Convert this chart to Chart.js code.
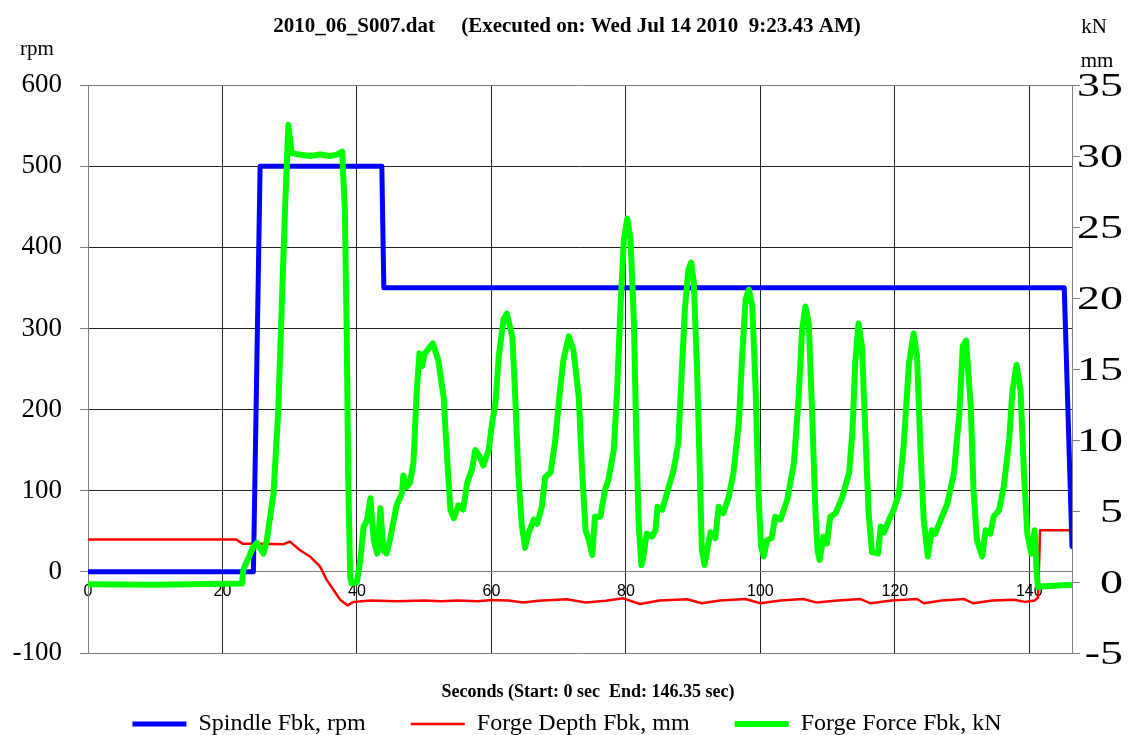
<!DOCTYPE html>
<html>
<head>
<meta charset="utf-8">
<script src="https://cdn.jsdelivr.net/npm/chart.js@4.4.1/dist/chart.umd.min.js"></script>
<style>
  html, body { margin: 0; padding: 0; background: #fff; }
  #wrap { width: 1134px; height: 735px; position: relative; }
</style>
</head>
<body>
<div id="wrap"><canvas id="forgeChart"></canvas></div>
<script>
const chartTitle = '2010_06_S007.dat     (Executed on: Wed Jul 14 2010  9:23.43 AM)';
const xTitle = 'Seconds (Start: 0 sec  End: 146.35 sec)';
const xTicks = [0, 20, 40, 60, 80, 100, 120, 140];

// Spindle Fbk, rpm (left axis)
const spindleTime = [0, 24.6, 25.6, 43.7, 44.0, 145.2, 146.35];
const spindleRpm = [0, 0, 500, 500, 350, 350, 31];

// Forge Depth Fbk, mm (right axis)
const depthTime = [0, 22.0, 23.0, 26.0, 29.0, 30.0, 31.5, 33.0, 34.5, 35.5, 36.5, 37.5, 38.6, 39.5, 42.0,
  46.0, 50.0, 52.5, 55.0, 58.0, 60.0, 62.5, 64.7, 67.0, 71.2, 74.0, 77.0, 79.6, 82.1, 85.0, 89.1, 91.3,
  94.0, 97.8, 100.0, 103.0, 106.4, 108.4, 111.5, 114.9, 116.4, 119.5, 123.3, 124.3, 127.0, 130.3, 131.7,
  134.5, 137.7, 139.4, 140.8, 141.3, 141.6, 146.35];
const depthMm = [3.0, 3.0, 2.7, 2.7, 2.65, 2.85, 2.25, 1.8, 1.1, 0.15, -0.55, -1.25, -1.65, -1.4, -1.3,
  -1.35, -1.3, -1.35, -1.3, -1.35, -1.27, -1.3, -1.45, -1.32, -1.22, -1.45, -1.32, -1.15, -1.55, -1.3, -1.22, -1.5,
  -1.3, -1.2, -1.5, -1.3, -1.2, -1.45, -1.3, -1.2, -1.5, -1.3, -1.2, -1.5, -1.3, -1.2, -1.5,
  -1.3, -1.25, -1.4, -1.3, -1.1, 3.65, 3.65];

// Forge Force Fbk, kN (right axis)
const forceTime = [0, 10, 22.9, 23.1, 24.6, 25.1, 26.1, 26.6, 27.6, 28.3, 28.8, 29.3, 29.8, 30.3, 31.5, 33.0,
  34.5, 36.0, 37.0, 37.8, 38.2, 38.5, 38.7, 39.0, 39.2, 40.0, 40.5, 41.0, 41.5, 42.0, 42.5, 43.0, 43.5, 43.9,
  44.4, 44.9, 45.9, 46.7, 46.9, 47.4, 47.9, 48.4, 48.9, 49.3, 49.7, 50.1, 51.3, 52.1, 52.9, 53.4, 53.9, 54.4,
  55.1, 55.8, 56.4, 57.1, 57.6, 58.3, 58.8, 59.6, 60.1, 60.6, 61.1, 61.8, 62.3, 63.1, 63.5, 64.0, 64.5, 65.0,
  65.5, 66.3, 66.8, 67.5, 68.0, 68.8, 69.5, 70.2, 70.7, 71.5, 72.2, 73.0, 73.5, 74.0, 74.5, 75.0, 75.4, 76.2,
  76.9, 77.4, 78.2, 78.7, 79.2, 79.7, 80.2, 80.7, 81.2, 81.5, 81.9, 82.3, 82.6, 83.1, 83.9, 84.4, 84.7, 85.4,
  86.1, 87.1, 87.8, 88.3, 88.8, 89.3, 89.7, 90.1, 90.6, 91.0, 91.3, 91.7, 92.1, 92.6, 93.3, 93.8, 94.5, 95.3,
  96.0, 96.8, 97.3, 97.8, 98.3, 98.8, 99.3, 99.7, 100.1, 100.5, 101.0, 101.7, 102.2, 103.0, 104.0, 105.0,
  105.7, 106.2, 106.7, 107.2, 107.7, 108.2, 108.5, 108.8, 109.4, 109.9, 110.4, 111.2, 112.2, 113.2, 113.7,
  114.1, 114.6, 115.1, 115.6, 116.1, 116.6, 117.5, 117.9, 118.4, 119.1, 119.8, 120.6, 121.3, 122.1, 122.8,
  123.3, 123.8, 124.3, 124.9, 125.5, 126.0, 126.8, 127.8, 128.8, 129.6, 130.1, 130.6, 131.3, 131.7, 132.2,
  133.0, 133.5, 134.2, 134.7, 135.5, 136.2, 137.0, 137.5, 138.1, 138.7, 139.2, 139.7, 140.3, 140.8, 141.1,
  141.3, 142.2, 146.35];
const forceKn = [-0.15, -0.2, -0.1, 0.85, 2.5, 2.75, 2.0, 2.95, 6.3, 12.1, 19.2, 26.2, 32.2, 30.2, 30.1, 30.0,
  30.1, 30.0, 30.1, 30.3, 26.2, 16.8, 7.4, 0.35, -0.1, 0.0, 1.55, 3.9, 4.35, 5.9, 2.95, 2.0, 5.2, 2.25,
  2.0, 2.95, 5.4, 6.25, 7.5, 6.7, 7.0, 8.4, 13.5, 16.1, 15.2, 16.1, 16.8, 15.6, 13.0, 8.8, 5.1, 4.5,
  5.4, 5.1, 7.0, 7.9, 9.3, 8.8, 8.2, 9.3, 11.2, 12.6, 15.9, 18.5, 18.9, 17.3, 13.5, 7.7, 4.1, 2.4,
  3.4, 4.4, 4.1, 5.3, 7.4, 7.7, 10.0, 13.5, 15.6, 17.3, 16.3, 13.0, 7.7, 3.65, 2.95, 1.9, 4.6, 4.6,
  6.5, 7.2, 9.3, 13.5, 19.4, 24.1, 25.6, 24.1, 18.2, 11.2, 4.1, 1.2, 1.8, 3.4, 3.2, 3.65, 5.3, 5.1,
  6.25, 7.9, 9.8, 14.7, 19.4, 22.0, 22.5, 21.1, 14.7, 7.7, 2.25, 1.2, 2.25, 3.5, 3.1, 5.3, 4.85, 6.0,
  7.7, 11.2, 15.9, 19.9, 20.6, 19.4, 13.5, 6.5, 2.5, 1.8, 2.95, 3.1, 4.6, 4.4, 5.8, 8.4,
  13.05, 17.7, 19.4, 18.2, 11.9, 4.85, 2.25, 1.55, 3.2, 2.7, 4.6, 4.85, 6.0, 7.7, 10.7,
  15.4, 18.2, 16.6, 10.7, 4.85, 2.1, 2.0, 3.9, 3.5, 4.35, 5.05, 6.25, 9.5, 15.4, 17.5,
  15.9, 9.5, 4.35, 1.8, 3.65, 3.4, 4.35, 5.5, 7.7, 11.9, 16.6, 17.0, 12.3, 6.5, 2.95,
  1.8, 3.65, 3.4, 4.6, 5.05, 6.7, 10.0, 13.5, 15.3, 13.5, 7.7, 3.4, 2.0, 3.65, 0.6,
  -0.35, -0.3, -0.2];

function toPoints(xs, ys) {
  return xs.map((x, i) => ({ x: x, y: ys[i] }));
}

const serif = '"Liberation Serif", "Times New Roman", serif';
const sans = '"Liberation Sans", Arial, sans-serif';

// titulo, unidades, titulo del eje x y etiquetas del eje derecho (mas anchas)
const extraText = {
  id: 'extraText',
  afterDraw(chart) {
    const ctx = chart.ctx;
    const area = chart.chartArea;
    ctx.save();
    ctx.fillStyle = '#000';
    ctx.textAlign = 'center';
    ctx.textBaseline = 'middle';
    ctx.font = 'bold 21px ' + serif;
    ctx.fillText(chartTitle, chart.width / 2, 27);
    ctx.font = '21px ' + serif;
    ctx.fillText('rpm', area.left - 51, area.top - 36);
    ctx.fillText('kN', area.right + 22, area.top - 58);
    ctx.fillText('mm', area.right + 25, area.top - 24);
    ctx.font = 'bold 18px ' + serif;
    ctx.fillText(xTitle, (area.left + area.right) / 2 + 8, area.bottom + 39);

    const right = chart.scales.y1;
    const stretch = 1.35;
    ctx.font = '34px ' + serif;
    ctx.textAlign = 'right';
    right.ticks.forEach(t => {
      const y = right.getPixelForValue(t.value);
      ctx.save();
      ctx.translate(area.right + 51, y + 2);
      ctx.scale(stretch, 1);
      ctx.fillText(String(t.value), 0, 0);
      ctx.restore();
    });
    ctx.restore();
  }
};

const gridEdge = (c) => (c.tick.value === 0 || c.tick.value === -100 || c.tick.value === 600) ? '#808080' : '#222';

new Chart(document.getElementById('forgeChart'), {
  type: 'line',
  data: {
    datasets: [{
      label: 'Spindle Fbk, rpm',
      data: toPoints(spindleTime, spindleRpm),
      borderColor: '#0000ff',
      backgroundColor: '#0000ff',
      borderWidth: 5,
      yAxisID: 'y',
      order: 1
    }, {
      label: 'Forge Depth Fbk, mm',
      data: toPoints(depthTime, depthMm),
      borderColor: '#ff0000',
      backgroundColor: '#ff0000',
      borderWidth: 2.5,
      yAxisID: 'y1',
      order: 2
    }, {
      label: 'Forge Force Fbk, kN',
      data: toPoints(forceTime, forceKn),
      borderColor: '#00ff00',
      backgroundColor: '#00ff00',
      borderWidth: 6,
      yAxisID: 'y1',
      order: 0
    }]
  },
  options: {
    responsive: true,
    maintainAspectRatio: false,
    animation: false,
    elements: {
      point: { radius: 0 },
      line: { tension: 0, borderJoinStyle: 'round', borderCapStyle: 'round', fill: false }
    },
    layout: { padding: { top: 85, left: 0, right: 0, bottom: -11 } },
    scales: {
      x: {
        type: 'linear',
        position: { y: 0 },
        min: 0,
        max: 146.35,
        afterBuildTicks: (s) => { s.ticks = xTicks.map(v => ({ value: v })); },
        ticks: { font: { family: sans, size: 16 }, color: '#000', padding: 4, maxRotation: 0, autoSkip: false },
        grid: { color: '#222', tickLength: 6, tickColor: '#222' },
        border: { color: '#808080' }
      },
      y: {
        position: 'left',
        min: -100,
        max: 600,
        afterFit: (s) => { s.width = 88; },
        ticks: { stepSize: 100, font: { family: serif, size: 27 }, color: '#000', padding: 18 },
        grid: { color: gridEdge, tickLength: 8, tickColor: '#808080' },
        border: { color: '#808080' }
      },
      y1: {
        position: 'right',
        min: -5,
        max: 35,
        afterFit: (s) => { s.width = 62; },
        ticks: { stepSize: 5, display: false },
        grid: { drawOnChartArea: false, tickLength: 8, tickColor: '#808080' },
        border: { color: '#808080' }
      }
    },
    plugins: {
      legend: {
        position: 'bottom',
        title: { display: true, text: ' ', font: { size: 10, lineHeight: 1.4 }, padding: 0 },
        labels: {
          usePointStyle: true,
          pointStyle: 'line',
          pointStyleWidth: 54,
          padding: 45,
          color: '#000',
          font: { family: serif, size: 24 },
          sort: (a, b) => a.datasetIndex - b.datasetIndex
        }
      },
      tooltip: { enabled: false }
    }
  },
  plugins: [extraText]
});
</script>
</body>
</html>
